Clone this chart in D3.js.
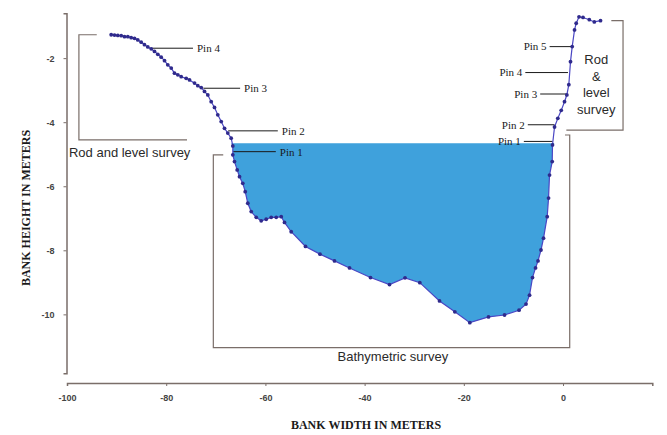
<!DOCTYPE html>
<html>
<head>
<meta charset="utf-8">
<script src="https://cdn.jsdelivr.net/npm/d3@7"></script>
<style>
  html, body { margin: 0; padding: 0; background: #fff; }
  svg { display: block; }
</style>
</head>
<body>
<svg id="chart" width="667" height="435"></svg>
<script>
// Cross-section profile: horizontal distance (m) and bank height (m)
const widthM = [
  -91.09, -90.42, -89.76, -89.07, -88.41, -87.74, -87.06, -86.39, -85.73, -85.04,
  -84.38, -83.71, -83.02, -82.36, -81.69, -81.01, -80.34, -79.68, -78.99, -78.33,
  -77.66, -76.98, -75.97, -75.30, -74.29, -73.63, -72.94, -72.28, -71.61, -70.93,
  -70.26, -69.60, -68.91, -68.25, -67.58, -66.90, -66.57, -66.57, -66.23, -65.69,
  -65.22, -64.56, -64.07, -63.55, -62.86, -61.85, -60.85, -59.84, -58.83, -57.82,
  -56.81, -56.15, -54.80, -51.92, -48.99, -46.07, -43.04, -38.81, -34.98, -31.85,
  -28.87, -24.90, -21.81, -18.79, -15.02, -11.79, -8.87, -7.46, -6.75, -6.15,
  -5.54, -5.04, -4.44, -3.93, -3.19, -2.92, -2.72, -2.18, -2.12, -1.71,
  -1.05, -0.36, 0.30, 0.77, 1.17, 1.51, 1.85, 2.32, 2.66, 3.23,
  4.03, 5.30, 6.31, 7.56
];
const heightM = [
  -1.27, -1.28, -1.29, -1.30, -1.33, -1.33, -1.36, -1.38, -1.43, -1.50,
  -1.58, -1.65, -1.71, -1.79, -1.88, -1.97, -2.08, -2.21, -2.31, -2.47,
  -2.52, -2.58, -2.63, -2.68, -2.78, -2.86, -2.92, -3.04, -3.15, -3.36,
  -3.54, -3.77, -3.98, -4.19, -4.34, -4.50, -4.74, -5.02, -5.23, -5.49,
  -5.70, -5.91, -6.17, -6.53, -6.79, -6.97, -7.08, -7.03, -6.97, -6.97,
  -6.95, -7.13, -7.42, -7.88, -8.12, -8.33, -8.55, -8.85, -9.07, -8.86,
  -9.01, -9.58, -9.92, -10.26, -10.08, -10.02, -9.87, -9.68, -9.40, -8.85,
  -8.55, -8.33, -7.99, -7.62, -6.95, -6.37, -5.65, -5.23, -4.71, -4.15,
  -3.88, -3.63, -3.36, -3.15, -2.83, -2.11, -1.64, -1.12, -0.91, -0.71,
  -0.73, -0.80, -0.87, -0.83
];
// Water surface elevation (m)
const waterLevel = -4.66;

// Axis ticks
const xTicks = [-100, -80, -60, -40, -20, 0];
const yTicks = [-2, -4, -6, -8, -10];

// Survey pins: label, side, bank height (m), leader line extent (m)
const pinLabels = ["Pin 4", "Pin 3", "Pin 2", "Pin 1", "Pin 5", "Pin 4", "Pin 3", "Pin 2", "Pin 1"];
const pinSide   = ["L", "L", "L", "L", "R", "R", "R", "R", "R"];
const pinHeight = [-1.69, -2.94, -4.27, -4.92, -1.64, -2.45, -3.12, -4.08, -4.60];
const pinFrom   = [-83.0, -72.5, -67.5, -66.5, -2.7, -7.6, -4.6, -7.1, -7.9];
const pinTo     = [-74.6, -65.1, -57.5, -57.9, 1.8, 1.0, 0.66, -1.7, -2.1];

const points = widthM.map((w, i) => ({ x: w, y: heightM[i] }));

const svg = d3.select("#chart");

const x = d3.scaleLinear().domain([-100, 18]).range([67, 652.3]);
const y = d3.scaleLinear().domain([-11.84, -0.6]).range([373.3, 13.3]);

const axisColor = "#7a6e69";
const sans = "'Liberation Sans', Arial, sans-serif";
const serif = "'Liberation Serif', 'Times New Roman', serif";

// Water-filled part of the channel: between the water surface and the bed,
// where the bed lies below the surface.
svg.append("path")
  .datum(points)
  .attr("fill", "#3fa1dc")
  .attr("d", d3.area()
    .x(d => x(d.x))
    .y0(y(waterLevel))
    .y1(d => y(Math.min(d.y, waterLevel))));

// Survey brackets
const bracket = (pts) => d3.line().x(p => x(p[0])).y(p => y(p[1]))(pts);
const brackets = [
  [[-94.0, -1.27], [-97.6, -1.27], [-97.6, -4.55], [-75.8, -4.55]],
  [[-68.5, -5.02], [-70.5, -5.02], [-70.5, -11.04], [1.35, -11.04], [1.35, -4.40], [0.4, -4.40]],
  [[9.74, -0.83], [12.1, -0.83], [12.1, -4.25], [0.67, -4.25]]
];
svg.append("g").selectAll("path").data(brackets).join("path")
  .attr("d", bracket)
  .attr("fill", "none")
  .attr("stroke", axisColor)
  .attr("stroke-width", 1.2);

// Bracket captions
svg.append("text")
  .attr("x", x(-99.6)).attr("y", y(-4.93)).attr("dy", "0.35em")
  .attr("font-family", sans).attr("font-size", 13).attr("fill", "#2a2a2a")
  .text("Rod and level survey");
svg.append("text")
  .attr("x", x(-34.3)).attr("y", y(-11.3)).attr("dy", "0.35em")
  .attr("text-anchor", "middle")
  .attr("font-family", sans).attr("font-size", 13).attr("fill", "#2a2a2a")
  .text("Bathymetric survey");
const rightCaption = ["Rod", "&", "level", "survey"];
svg.append("text")
  .attr("font-family", sans).attr("font-size", 13).attr("fill", "#2a2a2a")
  .attr("text-anchor", "middle")
  .selectAll("tspan").data(rightCaption).join("tspan")
  .attr("x", x(6.7))
  .attr("y", (d, i) => y(-2.03) + i * 16.9)
  .attr("dy", "0.35em")
  .text(d => d);

// Pin leader lines and labels
const pins = pinLabels.map((t, i) => ({ t, side: pinSide[i], h: pinHeight[i], a: pinFrom[i], b: pinTo[i] }));
const pinG = svg.append("g");
pinG.selectAll("line").data(pins).join("line")
  .attr("x1", d => x(d.a)).attr("x2", d => x(d.b))
  .attr("y1", d => y(d.h)).attr("y2", d => y(d.h))
  .attr("stroke", "#1a1a1a").attr("stroke-width", 1);
pinG.selectAll("text").data(pins).join("text")
  .attr("x", d => d.side === "L" ? x(d.b) + 4 : x(d.a) - 3)
  .attr("y", d => y(d.h)).attr("dy", "0.35em")
  .attr("text-anchor", d => d.side === "L" ? "start" : "end")
  .attr("font-family", serif).attr("font-size", 11).attr("fill", "#1a1a1a")
  .text(d => d.t);

// Profile line and survey points
svg.append("path")
  .datum(points)
  .attr("fill", "none")
  .attr("stroke", "#4a46c4")
  .attr("stroke-width", 1.2)
  .attr("d", d3.line().x(d => x(d.x)).y(d => y(d.y)));
svg.append("g").selectAll("circle").data(points).join("circle")
  .attr("cx", d => x(d.x)).attr("cy", d => y(d.y))
  .attr("r", 1.9)
  .attr("fill", "#2f2a8c");

// Axes
const yAxis = svg.append("g")
  .attr("transform", `translate(${x.range()[0] - 0.5},0)`)
  .call(d3.axisLeft(y).tickValues(yTicks).tickSize(3).tickPadding(9).tickFormat(d => String(d)));
const xAxis = svg.append("g")
  .attr("transform", `translate(0,383)`)
  .call(d3.axisBottom(x).tickValues(xTicks).tickSize(3).tickPadding(9).tickFormat(d => String(d)));
[xAxis, yAxis].forEach(g => {
  g.select(".domain").attr("stroke", axisColor).attr("stroke-width", 1.5);
  g.selectAll(".tick line").attr("stroke", axisColor);
  g.selectAll(".tick text").attr("font-family", sans).attr("font-size", 9)
    .attr("font-weight", "bold").attr("fill", "#444");
});

// Axis titles
svg.append("text")
  .attr("x", 366).attr("y", 429)
  .attr("text-anchor", "middle")
  .attr("font-family", serif).attr("font-size", 12).attr("font-weight", "bold").attr("fill", "#1a1a1a")
  .text("BANK WIDTH IN METERS");
svg.append("text")
  .attr("transform", "translate(30,208) rotate(-90)")
  .attr("text-anchor", "middle")
  .attr("font-family", serif).attr("font-size", 12).attr("font-weight", "bold").attr("fill", "#1a1a1a")
  .text("BANK HEIGHT IN METERS");
</script>
</body>
</html>
